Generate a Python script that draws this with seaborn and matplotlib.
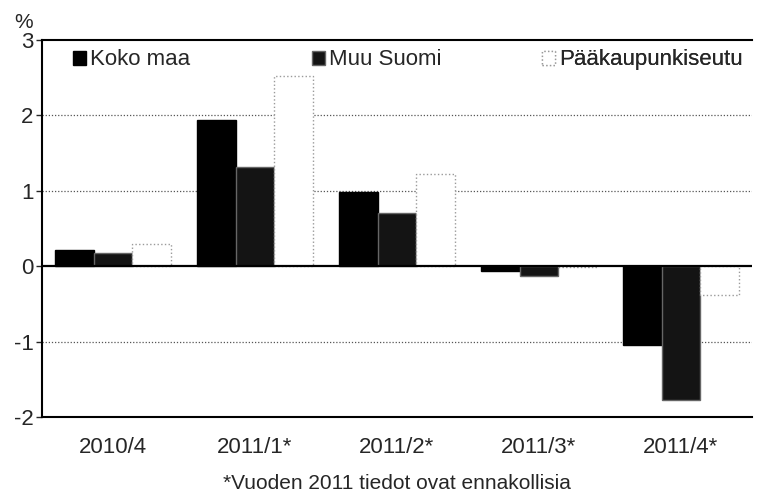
import pandas as pd
import seaborn as sns
import matplotlib.pyplot as plt

# neljännekset ja sarjat
quarters = ['2010/4', '2011/1*', '2011/2*', '2011/3*', '2011/4*']
koko_maa = [0.21, 1.94, 0.99, -0.07, -1.05]
muu_suomi = [0.17, 1.32, 0.70, -0.13, -1.78]
paakaupunkiseutu = [0.29, 2.52, 1.22, -0.01, -0.38]
series = ['Koko maa', 'Muu Suomi', 'Pääkaupunkiseutu']

df = pd.DataFrame({
    'quarter': quarters * 3,
    'value': koko_maa + muu_suomi + paakaupunkiseutu,
    'series': [s for s in series for _ in quarters],
})

sns.set_style('white')
plt.rcParams['font.family'] = ['Liberation Sans', 'DejaVu Sans']

fig = plt.figure(figsize=(7.58, 4.94), dpi=100)
ax = fig.add_axes([42 / 758, 1 - 417 / 494, 710 / 758, 377 / 494])

colors = ['#000000', '#141414', '#ffffff']
edges = ['#000000', '#666666', '#9a9a9a']
styles = ['-', '-', ':']
sns.barplot(data=df, x='quarter', y='value', hue='series', order=quarters,
            hue_order=series, palette=colors, width=0.81, saturation=1,
            ax=ax, legend=False)

# reunat palkeille
for cont, ec, ls in zip(ax.containers, edges, styles):
    for p in cont:
        p.set_edgecolor(ec)
        p.set_linestyle(ls)
        p.set_linewidth(1.0)

ax.set_xlim(-0.5, 4.5)
ax.set_ylim(-2, 3)
ax.set_yticks([-2, -1, 0, 1, 2, 3])
ax.set_yticklabels(['-2', '-1', '0', '1', '2', '3'])
ax.set_xlabel('')
ax.set_ylabel('')

for y in [1, 2, -1]:
    ax.axhline(y, color='#555555', lw=0.9, ls=(0, (1, 1.5)), zorder=0)
ax.axhline(0, color='black', lw=1.6, zorder=3)

for side in ['left', 'top', 'bottom']:
    ax.spines[side].set_visible(True)
    ax.spines[side].set_color('black')
    ax.spines[side].set_linewidth(1.5)
ax.spines['right'].set_visible(False)

ax.tick_params(axis='y', left=True, length=4, width=1, pad=2, labelsize=16)
ax.tick_params(axis='x', bottom=False, pad=11, labelsize=16)

# selite: jokainen sarja omaan kohtaansa
legend_x = [73, 312, 542]
for name, c, e, l, px in zip(series, colors, edges, styles, legend_x):
    h = plt.Rectangle((0, 0), 1, 1, facecolor=c, edgecolor=e, ls=l, lw=1)
    leg = ax.legend([h], [name], loc='upper left',
                    bbox_to_anchor=((px - 42) / 710, 0.975), frameon=False,
                    fontsize=16, handlelength=0.6, handleheight=0.6,
                    handletextpad=0.15, borderpad=0, borderaxespad=0)
    ax.add_artist(leg)

fig.text(14 / 758, 1 - 23 / 494, '%', fontsize=15, va='center', ha='left')
fig.text((42 + 752) / 2 / 758, 1 - 483 / 494,
         '*Vuoden 2011 tiedot ovat ennakollisia',
         fontsize=15, ha='center', va='center')

fig.savefig('out.png', dpi=100)
